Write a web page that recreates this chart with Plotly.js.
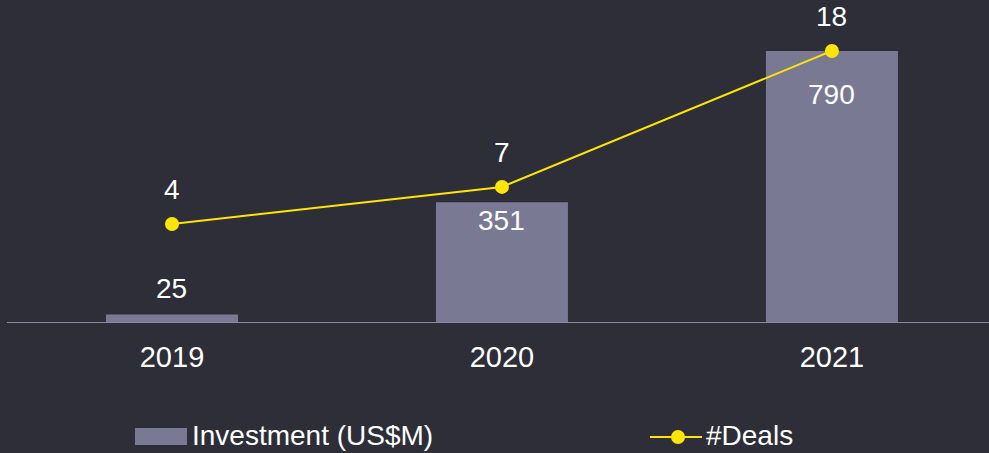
<!DOCTYPE html>
<html>
<head>
<meta charset="utf-8">
<script src="https://cdn.plot.ly/plotly-3.0.1.min.js"></script>
<style>html,body{margin:0;padding:0;background:#2e2e38;}#chart{width:989px;height:453px;}</style>
</head>
<body>
<div id="chart"></div>
<script>
const years = ['2019', '2020', '2021'];
const investment = [25, 351, 790];
const deals = [4, 7, 18];
const investmentName = 'Investment (US$M)';
const dealsName = '#Deals';

const font = 'Liberation Sans, Arial, sans-serif';
const white = '#ffffff';
const barColor = '#797994';
const yellow = '#ffe600';
const barLabelShift = [26, -18, -44];

// plot area geometry (pixels) used to place the hand-drawn legend
const W = 989, H = 453, ML = 7, MB = 130;
const PW = W - ML, PH = H - MB;
const px = v => (v - ML) / PW;          // pixel x -> paper x
const py = v => (PH - v) / PH;          // pixel y -> paper y

const annotations = [];
investment.forEach((v, i) => {
  annotations.push({
    x: i, y: v, xref: 'x', yref: 'y', text: String(v), showarrow: false,
    yshift: barLabelShift[i], font: {family: font, size: 28, color: white}
  });
});
deals.forEach((v, i) => {
  annotations.push({
    x: i, y: v, xref: 'x', yref: 'y2', text: String(v), showarrow: false,
    yshift: 34, font: {family: font, size: 28, color: white}
  });
});
// legend texts
annotations.push({xref: 'paper', yref: 'paper', x: px(190), y: py(435), xanchor: 'left', yanchor: 'middle',
  text: investmentName, showarrow: false, font: {family: font, size: 28, color: white}});
annotations.push({xref: 'paper', yref: 'paper', x: px(704), y: py(435), xanchor: 'left', yanchor: 'middle',
  text: dealsName, showarrow: false, font: {family: font, size: 28, color: white}});

const data = [
  {type: 'bar', x: years, y: investment, name: investmentName, width: 0.4,
   marker: {color: barColor}, hoverinfo: 'none', showlegend: false},
  {type: 'scatter', mode: 'lines+markers', x: years, y: deals, name: dealsName, yaxis: 'y2',
   line: {color: yellow, width: 2}, marker: {color: yellow, size: 14}, hoverinfo: 'none', showlegend: false}
];

const layout = {
  width: W, height: H,
  paper_bgcolor: '#2e2e38', plot_bgcolor: '#2e2e38',
  margin: {l: ML, r: 0, t: 0, b: MB, autoexpand: false},
  font: {family: font, color: white, size: 28},
  showlegend: false,
  xaxis: {type: 'category', range: [-0.5, 2.476], showgrid: false, zeroline: false,
    showline: false, ticks: '', ticklabelstandoff: 14, tickfont: {family: font, size: 29, color: white}},
  yaxis: {range: [0, 938], showticklabels: false, showgrid: false, zeroline: false, showline: false, ticks: ''},
  yaxis2: {range: [-4.01, 22.12], overlaying: 'y', side: 'right', showticklabels: false,
    showgrid: false, zeroline: false, showline: false, ticks: ''},
  shapes: [
    {type: 'line', xref: 'paper', yref: 'y', x0: 0, x1: 1, y0: 0, y1: 0,
     line: {color: '#8a8a9e', width: 2}},
    // legend swatches
    {type: 'rect', xref: 'paper', yref: 'paper', x0: px(135), x1: px(187), y0: py(445), y1: py(428),
     fillcolor: barColor, line: {width: 0}},
    {type: 'line', xref: 'paper', yref: 'paper', x0: px(650), x1: px(702), y0: py(437), y1: py(437),
     line: {color: yellow, width: 2}},
    {type: 'circle', xref: 'paper', yref: 'paper', x0: px(671), x1: px(685), y0: py(444), y1: py(430),
     fillcolor: yellow, line: {width: 0}}
  ],
  annotations: annotations
};

Plotly.newPlot('chart', data, layout, {displayModeBar: false});
</script>
</body>
</html>
